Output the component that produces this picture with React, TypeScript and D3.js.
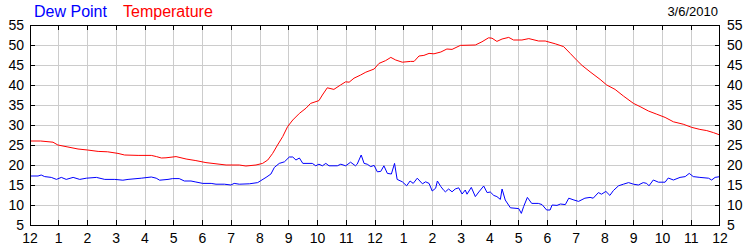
import React from "react";
import * as d3 from "d3";

const dateLabel = "3/6/2010";
const seriesNames = ["Dew Point", "Temperature"];
const xTickLabels = ["12","1","2","3","4","5","6","7","8","9","10","11","12","1","2","3","4","5","6","7","8","9","10","11","12"];
const yTicks = [5,10,15,20,25,30,35,40,45,50,55];

const tempHours = [0,0.37,0.8,0.97,1.32,1.67,2.0,2.37,2.7,3.06,3.29,3.76,4.22,4.4,4.57,4.73,5.08,5.43,5.77,6.12,6.47,6.82,7.28,7.51,7.86,8.09,8.27,8.44,8.61,8.79,8.96,9.14,9.37,9.6,9.76,10.05,10.17,10.34,10.57,10.8,10.98,11.1,11.27,11.5,11.68,11.97,12.14,12.37,12.55,12.72,12.95,13.24,13.36,13.53,13.7,13.88,14.05,14.29,14.5,14.68,14.97,15.49,15.72,15.95,16.07,16.24,16.42,16.65,16.82,17.11,17.35,17.69,17.92,18.27,18.56,18.79,19.03,19.2,19.48,19.83,20.06,20.35,20.64,20.99,21.22,21.51,21.8,22.09,22.38,22.72,23.02,23.3,23.54,23.77,24];
const tempValues = [26,26,25.7,25.0,24.5,24.0,23.75,23.4,23.3,22.9,22.5,22.4,22.4,22.1,21.75,21.8,22.1,21.5,21.1,20.6,20.3,20.0,20.0,19.75,20.0,20.4,21.25,22.9,25.0,27.1,29.6,31.25,32.9,34.2,35.4,36.1,37.5,39.3,38.9,40,40.8,40.7,41.7,42.5,43.2,44,45.4,46.1,46.9,46.25,45.7,45.9,45.9,47.25,47.4,47.9,47.8,48.25,49,48.9,49.9,50,50.8,51.8,51.7,50.9,51.5,51.9,51.25,51.25,51.6,51,51,50.3,49.6,47.9,46.1,44.9,43.3,41.4,40,38.9,37.25,35.4,34.6,33.5,32.7,31.9,30.8,30.2,29.4,28.9,28.6,28.1,27.5];

const dewHours = [0,0.28,0.39,0.51,0.74,0.92,1.09,1.26,1.5,1.73,1.96,2.31,2.6,2.95,3.23,3.41,3.87,4.22,4.39,4.51,4.8,4.96,5.19,5.37,5.6,5.77,6.01,6.3,6.47,6.76,6.99,7.1,7.28,7.63,7.92,8.03,8.21,8.38,8.5,8.67,8.85,9.02,9.14,9.25,9.37,9.49,9.82,9.94,10.05,10.17,10.29,10.4,10.69,10.81,10.98,11.15,11.32,11.38,11.52,11.62,11.73,11.85,11.97,12.08,12.2,12.31,12.43,12.57,12.68,12.77,12.95,13.1,13.22,13.33,13.47,13.65,13.76,13.88,13.99,14.11,14.17,14.29,14.4,14.45,14.56,14.68,14.79,14.91,15.03,15.14,15.2,15.35,15.49,15.61,15.78,15.9,16.01,16.13,16.24,16.36,16.42,16.53,16.71,17.0,17.09,17.17,17.3,17.45,17.68,17.81,17.97,18.09,18.16,18.33,18.45,18.62,18.74,18.92,19.08,19.3,19.48,19.59,19.77,19.88,20.03,20.17,20.29,20.47,20.64,20.82,20.99,21.16,21.33,21.45,21.53,21.68,21.86,22.09,22.2,22.38,22.61,22.79,22.93,23.07,23.3,23.6,23.71,23.83,24];
const dewValues = [17.25,17.25,17.5,17.1,16.9,16.4,16.9,16.4,16.9,16.4,16.7,16.9,16.4,16.4,16.2,16.4,16.7,17.0,16.7,16.2,16.4,16.6,16.6,16.0,16.0,15.75,15.4,15.4,15.2,15.2,15.0,15.4,15.2,15.3,15.6,16.1,16.9,17.75,19.4,20.4,20.8,22,22,21.25,21.75,20.4,20.4,19.8,20.2,19.8,20.4,19.8,19.8,20.2,19.8,20.7,19.8,20.2,22.5,20.4,20.2,19.6,19.9,18.3,18.4,19.8,17.9,17.75,20.4,16.4,15.8,14.8,16,15.4,16.7,15.3,15.8,15.4,13.5,14.2,16.0,14.6,13.6,13.3,14.0,13.3,14.0,14.3,12.75,13.75,12.7,14.4,12.1,13.25,14.75,13.1,13.25,12.4,12.1,11.4,14.0,11.25,9.3,9.1,7.9,9.6,11.9,10.4,10.4,10.1,8.75,8.75,10.0,9.9,10.25,10.1,11.7,11.25,10.9,11.7,11.9,11.7,13.1,12.7,13.4,12.4,13.6,14.8,15.2,15.6,15.2,15.0,15.6,15.4,14.8,16.25,15.7,15.7,16.75,16.25,16.9,17.1,17.9,17.1,16.9,16.7,16.25,16.9,17.1];

export default function App() {
  const W = 750, H = 250;
  const left = 30, right = 720, top = 25, bottom = 225;
  const x = d3.scaleLinear().domain([0, 24]).range([left, right]);
  const y = d3.scaleLinear().domain([5, 55]).range([bottom, top]);
  const crisp = (v: number) => Math.floor(v) + 0.5;
  const hours = d3.range(0, 25);
  const line = d3.line<[number, number]>().x(d => x(d[0])).y(d => y(d[1]));
  const tempPath = line(tempHours.map((h, i) => [h, tempValues[i]] as [number, number])) || "";
  const dewPath = line(dewHours.map((h, i) => [h, dewValues[i]] as [number, number])) || "";
  const font = "'Liberation Sans', Arial, sans-serif";
  return (
    <svg width={W} height={H} style={{ position: "absolute", left: 0, top: 0, background: "#fff" }} fontFamily={font}>
      <rect x={0} y={0} width={W} height={H} fill="#fff" />
      {/* grid */}
      {hours.slice(1, 24).map(h => (
        <line key={"gx" + h} x1={crisp(x(h))} x2={crisp(x(h))} y1={top} y2={bottom} stroke="#cccccc" strokeWidth={1} />
      ))}
      {yTicks.slice(1, yTicks.length - 1).map(v => (
        <line key={"gy" + v} x1={left} x2={right} y1={crisp(y(v))} y2={crisp(y(v))} stroke="#cccccc" strokeWidth={1} />
      ))}
      {/* series */}
      <path d={dewPath} fill="none" stroke="#0000ff" strokeWidth={1} />
      <path d={tempPath} fill="none" stroke="#ff0000" strokeWidth={1} />
      {/* frame */}
      <rect x={left + 0.5} y={top + 0.5} width={right - left - 1} height={bottom - top} fill="none" stroke="#000" strokeWidth={1} />
      {/* ticks */}
      {hours.slice(1, 24).map(h => (
        <g key={"tx" + h}>
          <line x1={crisp(x(h))} x2={crisp(x(h))} y1={top} y2={top + 5} stroke="#000" />
          <line x1={crisp(x(h))} x2={crisp(x(h))} y1={bottom} y2={bottom - 5} stroke="#000" />
        </g>
      ))}
      {yTicks.slice(1, yTicks.length - 1).map(v => (
        <g key={"ty" + v}>
          <line x1={left} x2={left + 5} y1={crisp(y(v))} y2={crisp(y(v))} stroke="#000" />
          <line x1={right} x2={right - 5} y1={crisp(y(v))} y2={crisp(y(v))} stroke="#000" />
        </g>
      ))}
      {/* y labels */}
      {yTicks.map(v => (
        <g key={"yl" + v}>
          <text x={24} y={y(v) + 5} textAnchor="end" fontSize={14} fill="#000">{v}</text>
          <text x={727} y={y(v) + 5} textAnchor="start" fontSize={14} fill="#000">{v}</text>
        </g>
      ))}
      {/* x labels */}
      {xTickLabels.map((t, i) => (
        <text key={"xl" + i} x={x(i)} y={243} textAnchor="middle" fontSize={14} fill="#000">{t}</text>
      ))}
      {/* legend */}
      <text x={34} y={17} fontSize={16} fill="#0000ff">{seriesNames[0]}</text>
      <text x={123} y={17} fontSize={16} fill="#ff0000">{seriesNames[1]}</text>
      <text x={718} y={16} fontSize={13} textAnchor="end" fill="#000">{dateLabel}</text>
    </svg>
  );
}
